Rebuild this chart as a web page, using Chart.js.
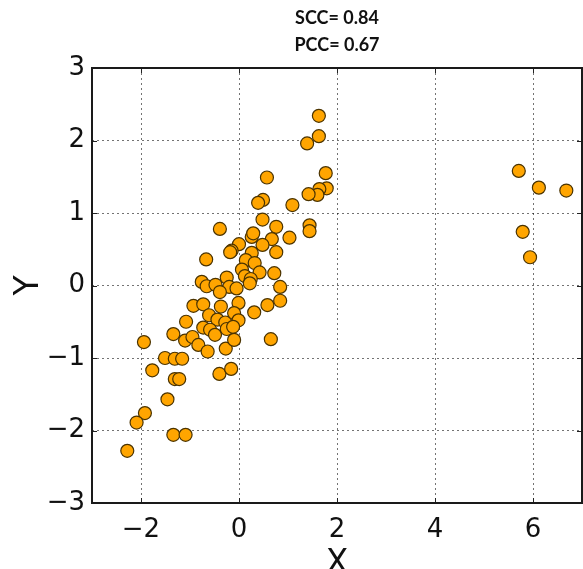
<!DOCTYPE html>
<html>
<head>
<meta charset="utf-8">
<script src="https://cdn.jsdelivr.net/npm/chart.js@4/dist/chart.umd.min.js"></script>
<style>
  body { margin: 0; background: #fff; }
  canvas { display: block; }
</style>
</head>
<body>
<canvas id="scatter" width="583" height="569"></canvas>
<script>
const titleLines = ['SCC= 0.84', 'PCC= 0.67'];
const xTicks = [-2, 0, 2, 4, 6];
const yTicks = [-3, -2, -1, 0, 1, 2, 3];

// points
const xs = [
  1.63, 1.63, 1.39, 1.77, 0.57, 1.79, 1.64, 1.60, 1.42, 1.09, 0.49, 0.39, 0.48, -0.39, 1.44, 1.44,
  0.76, 1.03, 0.67, 0.26, 0.29, 0.48, 0.76, 0.00, -0.15, -0.18, 0.26, 0.14, 0.32, -0.67, 0.42, 0.72,
  0.06, 0.12, 0.24, 0.22, -0.25, -0.76, -0.66, -0.48, -0.20, -0.05, -0.39, 0.84,
  0.84, 0.58, 0.31, -0.01, -0.93, -0.73, -0.37, -1.08, -0.61, -0.44, -0.28, -0.10, -0.01, -0.73,
  -0.59, -0.49, -0.25, -0.12, -1.34, -1.10, -0.95, -0.83, -0.64, -0.27, -0.10, 0.65, -1.94, -1.51,
  -1.31, -1.16, -1.77, -0.40, -0.16, -1.31, -1.22, -1.46, -1.92, -2.09, -1.34, -1.09, -2.28,
  5.71, 6.12, 6.68, 5.79, 5.94
];
const ys = [
  2.34, 2.06, 1.96, 1.55, 1.49, 1.34, 1.33, 1.25, 1.26, 1.11, 1.18, 1.14, 0.91, 0.78, 0.83, 0.75,
  0.81, 0.66, 0.64, 0.67, 0.72, 0.56, 0.46, 0.57, 0.48, 0.46, 0.45, 0.35, 0.31, 0.36, 0.18, 0.17,
  0.22, 0.13, 0.09, 0.03, 0.11, 0.05, -0.01, 0.01, -0.02, -0.04, -0.09, -0.02,
  -0.21, -0.27, -0.37, -0.24, -0.28, -0.26, -0.29, -0.50, -0.41, -0.47, -0.51, -0.38, -0.48, -0.58,
  -0.61, -0.68, -0.60, -0.57, -0.67, -0.76, -0.71, -0.82, -0.91, -0.87, -0.75, -0.74, -0.78, -1.00,
  -1.01, -1.01, -1.17, -1.22, -1.15, -1.29, -1.29, -1.57, -1.76, -1.89, -2.06, -2.06, -2.28,
  1.58, 1.35, 1.31, 0.74, 0.39
];

const minusLabel = function (value) {
  return value < 0 ? '\u2212' + Math.abs(value) : String(value);
};

// box + inward tick marks like the matplotlib frame
const framePlugin = {
  id: 'frame',
  afterDraw(chart) {
    const ctx = chart.ctx;
    const a = chart.chartArea;
    const sx = chart.scales.x;
    const sy = chart.scales.y;
    ctx.save();
    ctx.strokeStyle = '#222';
    ctx.lineWidth = 1;
    ctx.beginPath();
    xTicks.forEach(function (v) {
      const p = Math.round(sx.getPixelForValue(v)) + 0.5;
      ctx.moveTo(p, a.bottom); ctx.lineTo(p, a.bottom - 5);
      ctx.moveTo(p, a.top); ctx.lineTo(p, a.top + 5);
    });
    yTicks.forEach(function (v) {
      const p = Math.round(sy.getPixelForValue(v)) + 0.5;
      ctx.moveTo(a.left, p); ctx.lineTo(a.left + 5, p);
      ctx.moveTo(a.right, p); ctx.lineTo(a.right - 5, p);
    });
    ctx.stroke();
    ctx.lineWidth = 2;
    ctx.strokeStyle = '#1a1a1a';
    ctx.strokeRect(a.left, a.top, a.right - a.left, a.bottom - a.top);
    ctx.restore();
  }
};

const points = xs.map(function (x, i) { return { x: x, y: ys[i] }; });

new Chart(document.getElementById('scatter').getContext('2d'), {
  type: 'scatter',
  data: {
    datasets: [{
      data: points,
      backgroundColor: '#FFA500',
      borderColor: '#4a3300',
      borderWidth: 1.2,
      pointRadius: 6.5,
      pointHoverRadius: 6.5
    }]
  },
  options: {
    responsive: false,
    animation: false,
    layout: { autoPadding: false, padding: { left: 0, right: 1, top: 0, bottom: 0 } },
    plugins: {
      legend: { display: false },
      tooltip: { enabled: false },
      title: {
        display: true,
        fullSize: false,
        text: titleLines,
        color: '#111',
        font: { family: 'Lato', weight: 'bold', size: 18, lineHeight: 1.5 },
        padding: { top: 4.5, bottom: 9.5 }
      }
    },
    scales: {
      x: {
        type: 'linear',
        min: -3,
        max: 7,
        afterBuildTicks: function (scale) {
          scale.ticks = xTicks.map(function (v) { return { value: v }; });
        },
        afterFit: function (scale) {
          scale.height = 66;
          scale.paddingLeft = 0;
          scale.paddingRight = 0;
        },
        grid: { color: 'rgba(0,0,0,0.55)', lineWidth: 1, drawTicks: false },
        border: { display: false, dash: [2, 3] },
        ticks: {
          callback: minusLabel,
          color: '#111',
          padding: 12,
          maxRotation: 0,
          font: { family: 'DejaVu Sans', size: 26 }
        },
        title: {
          display: true,
          text: 'X',
          color: '#111',
          font: { family: 'DejaVu Sans', size: 33, lineHeight: 0.3 },
          padding: 0
        }
      },
      y: {
        type: 'linear',
        min: -3,
        max: 3,
        afterBuildTicks: function (scale) {
          scale.ticks = yTicks.map(function (v) { return { value: v }; });
        },
        afterFit: function (scale) {
          scale.width = 92;
          scale.paddingTop = 0;
          scale.paddingBottom = 0;
        },
        grid: { color: 'rgba(0,0,0,0.55)', lineWidth: 1, drawTicks: false },
        border: { display: false, dash: [2, 3] },
        ticks: {
          callback: minusLabel,
          color: '#111',
          padding: 7,
          font: { family: 'DejaVu Sans', size: 26 }
        },
        title: {
          display: true,
          text: 'Y',
          color: '#111',
          font: { family: 'DejaVu Sans', size: 33, lineHeight: 1.2 },
          padding: { top: 10, bottom: 0 }
        }
      }
    }
  },
  plugins: [framePlugin]
});
</script>
</body>
</html>
